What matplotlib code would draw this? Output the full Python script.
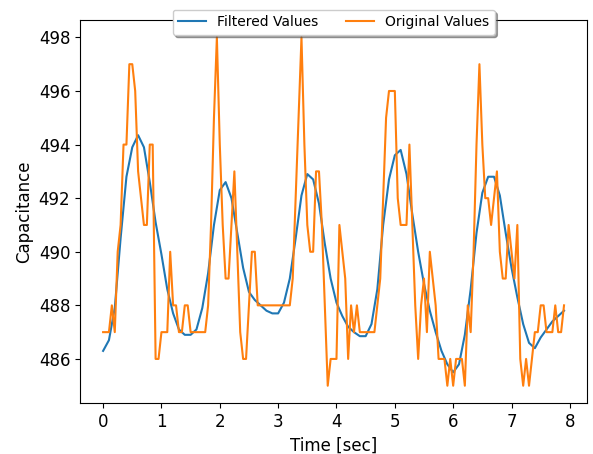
import matplotlib
matplotlib.use("Agg")
import matplotlib.pyplot as plt
import numpy as np

# original capacitance readings, sampled every 0.05 s
orig_dt = 0.05
original = [
    487, 487, 487, 488, 487, 490, 491, 494, 494, 497,   # 0.00 - 0.45
    497, 496, 493, 492, 491, 491, 494, 494, 486, 486,   # 0.50 - 0.95
    487, 487, 487, 490, 488, 488, 487, 487, 488, 488,   # 1.00 - 1.45
    487, 487, 487, 487, 487, 487, 488, 491, 495, 498,   # 1.50 - 1.95
    494, 491, 489, 489, 491, 493, 490, 487, 486, 486,   # 2.00 - 2.45
    488, 490, 490, 488, 488, 488, 488, 488, 488, 488,   # 2.50 - 2.95
    488, 488, 488, 488, 488, 489, 492, 495, 498, 494,   # 3.00 - 3.45
    491, 490, 490, 493, 493, 491, 488, 485, 486, 486,   # 3.50 - 3.95
    486, 491, 490, 489, 486, 488, 487, 488, 487, 487,   # 4.00 - 4.45
    487, 487, 487, 487, 488, 489, 492, 495, 496, 496,   # 4.50 - 4.95
    496, 492, 491, 491, 491, 494, 491, 488, 486, 488,   # 5.00 - 5.45
    489, 487, 490, 489, 488, 486, 486, 486, 485, 486,   # 5.50 - 5.95
    485, 486, 486, 486, 485, 488, 487, 490, 494, 497,   # 6.00 - 6.45
    494, 492, 492, 491, 492, 493, 490, 489, 489, 491,   # 6.50 - 6.95
    490, 489, 491, 486, 485, 486, 485, 486, 487, 487,   # 7.00 - 7.45
    488, 488, 487, 487, 487, 488, 487, 487, 488,        # 7.50 - 7.90
]

# filtered output, read every 0.1 s
filt_dt = 0.1
filtered = [
    486.3, 486.7, 487.9, 490.5, 492.8, 493.9, 494.35, 493.9, 492.6, 491.1,
    489.9, 488.6, 487.7, 487.1, 486.9, 486.9, 487.1, 487.9, 489.2, 491.0,
    492.3, 492.6, 492.0, 490.7, 489.4, 488.5, 488.2, 488.0, 487.8, 487.7,
    487.7, 488.1, 489.0, 490.5, 492.1, 492.9, 492.7, 491.8, 490.3, 489.0,
    488.1, 487.6, 487.2, 487.0, 486.85, 486.85, 487.3, 488.6, 491.0, 492.7,
    493.6, 493.8, 492.9, 491.4, 490.0, 488.8, 487.8, 487.0, 486.3, 485.8,
    485.5, 485.8, 486.9, 488.6, 490.7, 492.2, 492.8, 492.8, 492.1, 490.7,
    489.4, 488.3, 487.3, 486.6, 486.4, 486.8, 487.1, 487.4, 487.6, 487.8,
]

t_orig = np.arange(len(original)) * orig_dt
t_filt = np.arange(len(filtered)) * filt_dt

fig = plt.figure(figsize=(5.93, 4.54), dpi=100)
ax = fig.add_axes([0.135, 0.112, 0.855, 0.844])

ax.plot(t_filt, filtered, label='Filtered Values')
ax.plot(t_orig, original, label='Original Values')

ax.set_xlabel('Time [sec]', fontsize=12)
ax.set_ylabel('Capacitance', fontsize=12)
ax.tick_params(labelsize=12)
ax.set_xticks(range(0, 9))
ax.set_yticks(range(486, 499, 2))

ax.legend(loc='upper center', bbox_to_anchor=(0.5, 1.045), ncol=2,
          shadow=True, fontsize=10)

fig.savefig('out.png', dpi=100)
